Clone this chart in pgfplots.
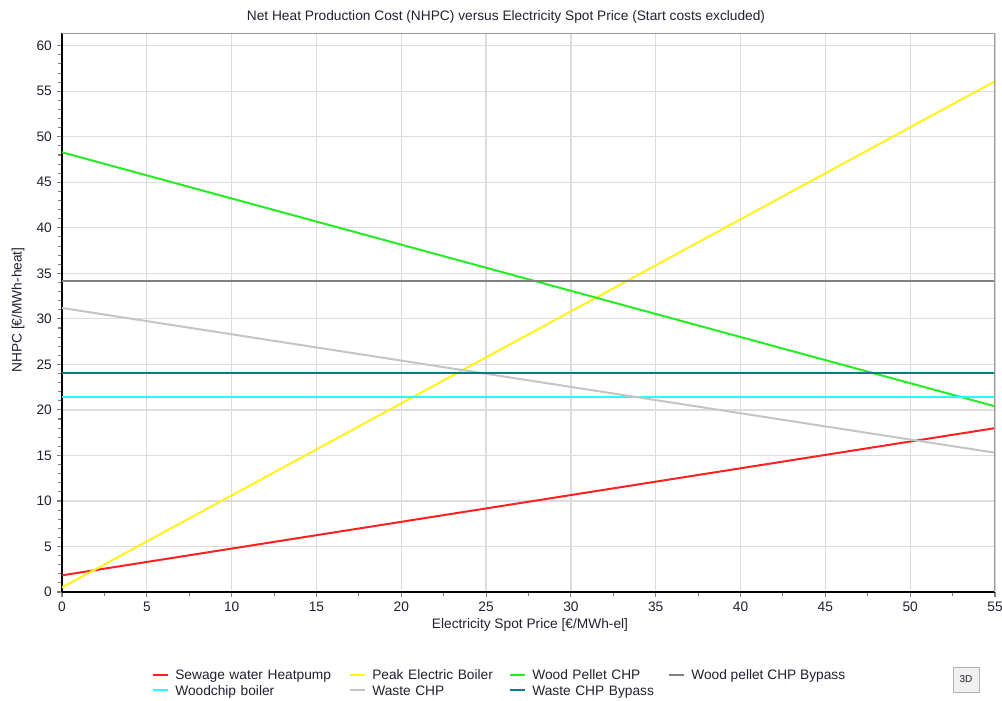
\documentclass[border=0pt]{standalone}
\usepackage{pgfplots}
\pgfplotsset{compat=1.18}
\usepackage{fontspec}
\setmainfont{Liberation Sans}
\definecolor{cRed}{HTML}{FF2020}
\definecolor{cYellow}{HTML}{FFF21A}
\definecolor{cGreen}{HTML}{22EE22}
\definecolor{cGrayD}{HTML}{808080}
\definecolor{cCyan}{HTML}{22FFFF}
\definecolor{cGrayL}{HTML}{C4C4C4}
\definecolor{cTeal}{HTML}{008080}
\definecolor{cGrid}{HTML}{DCDCDC}
\definecolor{cText}{HTML}{202030}
\begin{document}
\fontsize{10.3pt}{12pt}\selectfont
\begin{tikzpicture}
\path[use as bounding box] (0,0) rectangle (751.5pt,-525pt);
\begin{axis}[
  at={(46.5pt,-444pt)}, anchor=south west,
  scale only axis, width=699.75pt, height=419.25pt,
  xmin=0, xmax=55, ymin=0, ymax=61.4,
  xtick={0,5,...,55}, ytick={0,5,...,60},
  minor x tick num=1, minor y tick num=4,
  axis x line*=bottom, axis y line*=left,
  axis line style={black, line width=1.5pt, -},
  grid=major, major grid style={cGrid, line width=0.9pt},
  tick align=outside,
  major tick length=4pt, minor tick length=3pt,
  every tick/.style={cGrayD, line width=0.8pt},
  tick label style={font=\fontsize{10.3pt}{12pt}\selectfont, text=cText},
  /pgf/number format/assume math mode=true,
  legend columns=4,
  legend style={draw=none, fill=none, at={(axis description cs:0.0965,-0.138)}, anchor=north west,
    inner sep=0pt, row sep=2.8pt,
    /tikz/every odd column/.append style={column sep=4.5pt},
    /tikz/every even column/.append style={column sep=0pt},
    nodes={inner sep=0pt, anchor=base west, text=cText, font=\fontsize{10.3pt}{12pt}\selectfont}},
  legend image code/.code={\draw[#1] (0pt,3.6pt) -- (11.25pt,3.6pt);},
]
\addplot[cRed, line width=1.5pt] coordinates {(0,1.83) (55,18.0)};
\addlegendentry[text width=130.5pt]{Sewage water Heatpump}
\addplot[cYellow, line width=1.5pt] coordinates {(0,0.5) (55,56.1)};
\addlegendentry[text width=102.75pt]{Peak Electric Boiler}
\addplot[cGreen, line width=1.5pt] coordinates {(0,48.3) (55,20.4)};
\addlegendentry[text width=102pt]{Wood Pellet CHP}
\addplot[cGrayD, line width=1.5pt] coordinates {(0,34.2) (55,34.2)};
\addlegendentry{Wood pellet CHP Bypass}
\addplot[cCyan, line width=1.5pt] coordinates {(0,21.4) (55,21.4)};
\addlegendentry[text width=130.5pt]{Woodchip boiler}
\addplot[cGrayL, line width=1.5pt] coordinates {(0,31.2) (55,15.3)};
\addlegendentry[text width=102.75pt]{Waste CHP}
\addplot[cTeal, line width=1.5pt] coordinates {(0,24.05) (55,24.05)};
\addlegendentry[text width=102pt]{Waste CHP Bypass}
\draw[cGrayD!80, line width=1.5pt] (rel axis cs:0,1) -- (rel axis cs:1,1) -- (rel axis cs:1,0);
\end{axis}
\begin{scope}[x=0.75pt, y=-0.75pt]
\node[text=cText] at (506,17) {Net Heat Production Cost (NHPC) versus Electricity Spot Price (Start costs excluded)};
\node[text=cText] at (530,625) {Electricity Spot Price [€/MWh-el]};
\node[text=cText, rotate=90] at (18,310) {NHPC [€/MWh-heat]};
\node[draw=gray!60, fill=gray!12, minimum width=19.5pt, minimum height=19pt, inner sep=0pt, text=cText,
  font=\fontsize{7.5pt}{9pt}\selectfont] at (966,679.5) {3D};
\end{scope}
\end{tikzpicture}
\end{document}
